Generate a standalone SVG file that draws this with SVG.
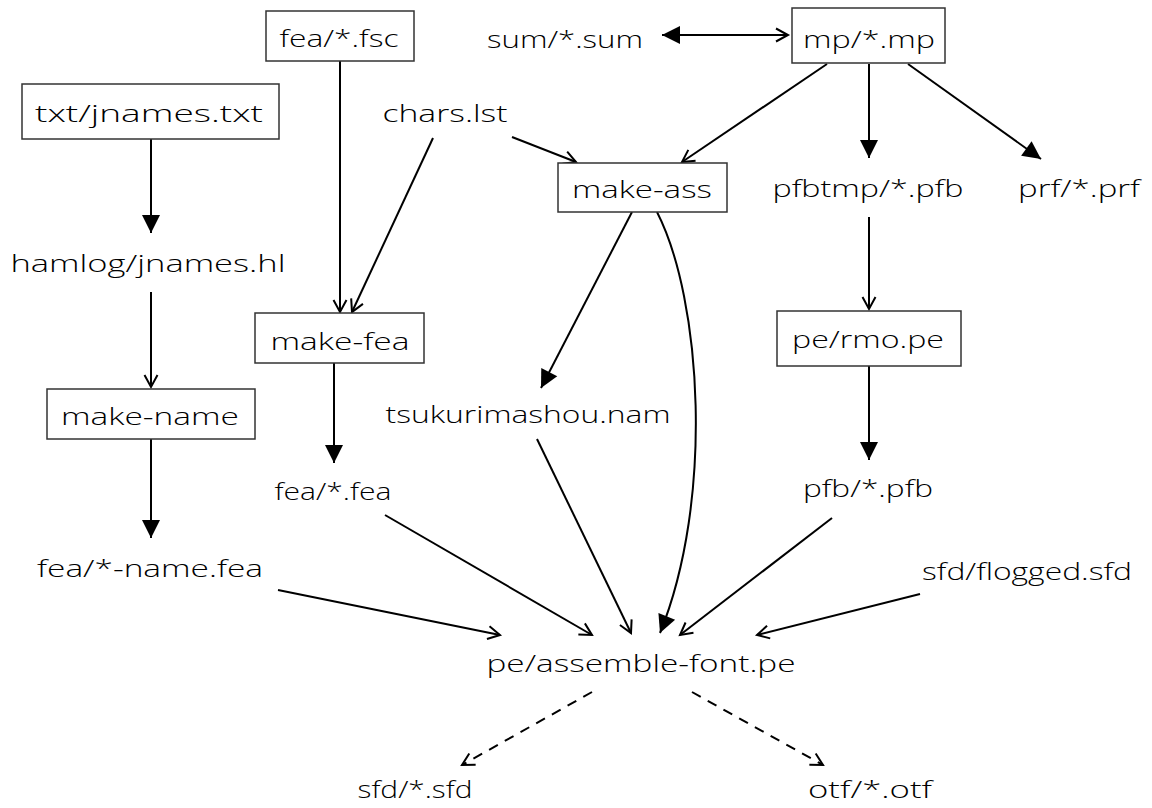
<svg xmlns="http://www.w3.org/2000/svg" width="1152" height="808" viewBox="0 0 1152 808">
<style>
text{font-family:"Open Sans","Noto Sans","DejaVu Sans",sans-serif;font-weight:300;font-size:24px;fill:#000;text-anchor:middle}
rect.box{fill:#fff;stroke:#333;stroke-width:1.5}
.e{fill:none;stroke:#000;stroke-width:2}
.f{marker-end:url(#fill)}
.o{marker-end:url(#open)}
.d{stroke-dasharray:10 8}
</style>
<defs>
<marker id="fill" markerUnits="userSpaceOnUse" markerWidth="20" markerHeight="20" refX="18" refY="9" orient="auto" overflow="visible"><path d="M0,0 L18,9 L0,18 z" fill="#000"/></marker>
<marker id="fillS" markerUnits="userSpaceOnUse" markerWidth="20" markerHeight="20" refX="18" refY="9" orient="auto-start-reverse" overflow="visible"><path d="M0,0 L18,9 L0,18 z" fill="#000"/></marker>
<marker id="open" markerUnits="userSpaceOnUse" markerWidth="14" markerHeight="15" refX="12" refY="6.5" orient="auto" overflow="visible"><path d="M0,0 L12,6.5 L0,13" fill="none" stroke="#000" stroke-width="2"/></marker>
</defs>
<g id="edges">
<path class="e" d="M662,35 L788,35" marker-start="url(#fillS)" marker-end="url(#open)"/>
<path class="e f" d="M151,139 L151,233"/>
<path class="e o" d="M151,292 L151,387"/>
<path class="e f" d="M151,439 L151,538"/>
<path class="e o" d="M340,61 L340,312"/>
<path class="e o" d="M433,138 L352,312"/>
<path class="e o" d="M512,137 L576,162"/>
<path class="e o" d="M827,64 L682,162"/>
<path class="e f" d="M869,64 L869,158"/>
<path class="e f" d="M908,64 L1041,159"/>
<path class="e o" d="M869,217 L869,309"/>
<path class="e f" d="M869,366 L869,460"/>
<path class="e f" d="M632,212 L541,388"/>
<path class="e f" d="M657,212 C702,300 714,500 660,633"/>
<path class="e f" d="M334,363 L334,463"/>
<path class="e o" d="M385,515 L592,635"/>
<path class="e o" d="M278,590 L500,635"/>
<path class="e o" d="M537,439 L631,633"/>
<path class="e o" d="M832,518 L680,635"/>
<path class="e o" d="M920,594 L757,635"/>
<path class="e o d" d="M592,692 L462,765"/>
<path class="e o d" d="M692,692 L823,765"/>
</g>
<g id="fea-fsc"><rect class="box" x="266" y="11" width="148" height="50"/><text x="339" y="47" textLength="119" lengthAdjust="spacingAndGlyphs">fea/*.fsc</text></g>
<g id="sum"><text x="565" y="48" textLength="156" lengthAdjust="spacingAndGlyphs">sum/*.sum</text></g>
<g id="mp"><rect class="box" x="792" y="8" width="153" height="55"/><text x="869" y="48" textLength="132" lengthAdjust="spacingAndGlyphs">mp/*.mp</text></g>
<g id="jnames-txt"><rect class="box" x="22" y="84" width="257" height="55"/><text x="149" y="122" textLength="228" lengthAdjust="spacingAndGlyphs">txt/jnames.txt</text></g>
<g id="chars"><text x="445" y="122" textLength="125" lengthAdjust="spacingAndGlyphs">chars.lst</text></g>
<g id="make-ass"><rect class="box" x="558" y="163" width="169" height="49"/><text x="642" y="198" textLength="140" lengthAdjust="spacingAndGlyphs">make-ass</text></g>
<g id="pfbtmp"><text x="868" y="197" textLength="191" lengthAdjust="spacingAndGlyphs">pfbtmp/*.pfb</text></g>
<g id="prf"><text x="1079" y="197" textLength="122" lengthAdjust="spacingAndGlyphs">prf/*.prf</text></g>
<g id="hamlog"><text x="148" y="272" textLength="275" lengthAdjust="spacingAndGlyphs">hamlog/jnames.hl</text></g>
<g id="make-fea"><rect class="box" x="255" y="313" width="169" height="50"/><text x="340" y="350" textLength="139" lengthAdjust="spacingAndGlyphs">make-fea</text></g>
<g id="rmo"><rect class="box" x="777" y="311" width="184" height="55"/><text x="868" y="348" textLength="152" lengthAdjust="spacingAndGlyphs">pe/rmo.pe</text></g>
<g id="make-name"><rect class="box" x="47" y="389" width="208" height="50"/><text x="150" y="425" textLength="178" lengthAdjust="spacingAndGlyphs">make-name</text></g>
<g id="tsuku"><text x="528" y="423" textLength="285" lengthAdjust="spacingAndGlyphs">tsukurimashou.nam</text></g>
<g id="fea-fea"><text x="333" y="500" textLength="117" lengthAdjust="spacingAndGlyphs">fea/*.fea</text></g>
<g id="pfb"><text x="868" y="497" textLength="130" lengthAdjust="spacingAndGlyphs">pfb/*.pfb</text></g>
<g id="fea-name"><text x="150" y="577" textLength="226" lengthAdjust="spacingAndGlyphs">fea/*-name.fea</text></g>
<g id="flogged"><text x="1027" y="580" textLength="210" lengthAdjust="spacingAndGlyphs">sfd/flogged.sfd</text></g>
<g id="assemble"><text x="641" y="672" textLength="309" lengthAdjust="spacingAndGlyphs">pe/assemble-font.pe</text></g>
<g id="sfd"><text x="415" y="798" textLength="115" lengthAdjust="spacingAndGlyphs">sfd/*.sfd</text></g>
<g id="otf"><text x="870" y="798" textLength="124" lengthAdjust="spacingAndGlyphs">otf/*.otf</text></g>
</svg>
